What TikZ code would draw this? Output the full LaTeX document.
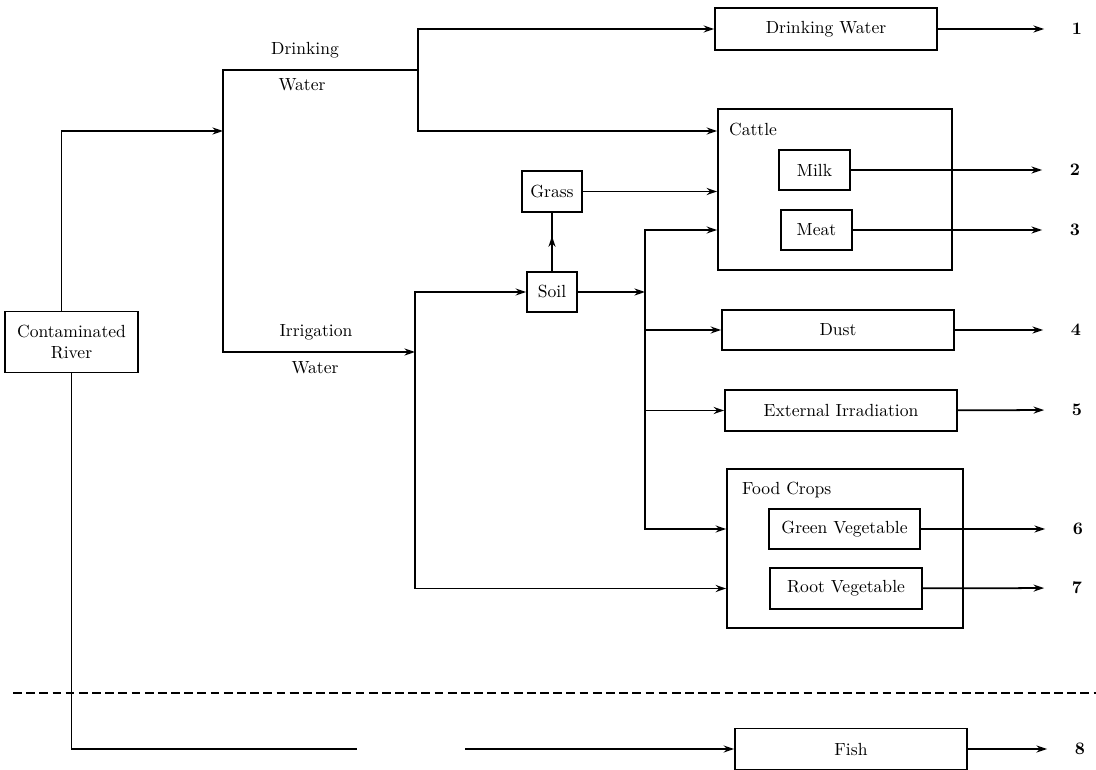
\documentclass[tikz,border=0pt]{standalone}
\usepackage{tikz}
\usetikzlibrary{arrows.meta,positioning,decorations.markings}

\begin{document}
\begin{tikzpicture}[
	x=0.02cm, y=-0.02cm,
	font=\normalsize
	]
\tikzset{
	base/.style = { rectangle, draw=black, line width=1pt, text centered, inner sep=2pt, minimum height=0.8cm },
	wide/.style = { base, minimum width=4.64cm },
	group/.style = { base, minimum width=4.7cm, minimum height=3.2cm },
	small/.style = { base, minimum width=1.42cm },
	veg/.style = { base, minimum width=3.04cm },
	pipe/.style = { line width=1pt },
	flow/.style = { pipe, -{Stealth[length=6pt,width=4pt]} },
	midflow/.style = { pipe, postaction={decorate}, decoration={markings, mark=at position 0.6 with {\arrow{Stealth[length=6pt,width=4pt]}}} },
	outnum/.style = { font=\bfseries, inner xsep=0.55cm },
	lbl/.style = { inner sep=1pt },
	divider/.style = { line width=1.2pt, dash pattern=on 5pt off 2.5pt }
}
\useasboundingbox (0,0) rectangle (1096,770);

	% source
	\node (river) [base, align=center, minimum width=2.66cm, minimum height=1.22cm] at (71.5,342) {Contaminated\\River};

	% upper column
	\node (drink) [base, minimum width=4.44cm, minimum height=0.84cm] at (826,29) {Drinking Water};
	\node (cattle) [group, minimum width=4.68cm, minimum height=3.22cm] at (835,189.5) {};
	\node (cattleLbl) [lbl, anchor=west] at (727,130) {Cattle};
	\node (milk) [small] at (814.5,170) {Milk};
	\node (meat) [small] at (816.5,230) {Meat};
	\node (grass) [base, minimum width=1.2cm, minimum height=0.82cm] at (552,191.5) {Grass};
	\node (soil) [base, minimum width=1cm] at (552,292) {Soil};

	% lower column
	\node (dust) [wide] at (838,330) {Dust};
	\node (irr) [wide, minimum height=0.82cm] at (841,410.5) {External Irradiation};
	\node (crops) [group, minimum width=4.72cm, minimum height=3.18cm] at (845,548.5) {};
	\node (cropsLbl) [lbl, anchor=west] at (740,490) {Food Crops};
	\node (green) [veg, minimum width=3.02cm] at (844.5,529) {Green Vegetable};
	\node (root) [veg, minimum height=0.82cm] at (846,588.5) {Root Vegetable};
	\node (fish) [wide, minimum height=0.82cm] at (851,749) {Fish};

	% pathway labels
	\node (lblDrinkA) [lbl] at (305,50) {Drinking};
	\node (lblDrinkB) [lbl] at (302,85) {Water};
	\node (lblIrrA) [lbl] at (316,332) {Irrigation};
	\node (lblIrrB) [lbl] at (315,368) {Water};

	% end points
	\node (n1) [outnum] at (1077,29) {1};
	\node (n2) [outnum] at (1075,170) {2};
	\node (n3) [outnum] at (1075,230) {3};
	\node (n4) [outnum] at (1076,330) {4};
	\node (n5) [outnum] at (1077,410) {5};
	\node (n6) [outnum] at (1078,529) {6};
	\node (n7) [outnum] at (1077,588) {7};
	\node (n8) [outnum] at (1080,749) {8};

	% junctions
	\coordinate (jRiver) at (223,131);
	\coordinate (jDrink) at (418,70);
	\coordinate (jIrr) at (415,352);
	\coordinate (jSoil) at (645,292);
	\coordinate (cutA) at (357,749);
	\coordinate (cutB) at (465,749);
	\coordinate (divL) at (13,693);
	\coordinate (divR) at (1096,693);

	% paths
	\draw [flow] ([xshift=-0.2cm]river.north) |- (jRiver);
	\draw [pipe] (jDrink) -| (jRiver);
	\draw [flow] (jRiver) |- (jIrr);

	\draw [flow] (jDrink) |- (drink.west);
	\draw [flow] (jDrink) |- (cattle.west |- jRiver);

	\draw [flow] (jIrr) |- (soil.west);
	\draw [flow] (jIrr) |- (crops.west |- root);

	\draw [midflow] (soil) -- (grass);
	\draw [flow] (grass) -- (cattle.west |- grass);
	\draw [flow] (soil) -- (jSoil);
	\draw [flow] (jSoil) |- (cattle.west |- meat);
	\draw [flow] (jSoil) |- (dust.west);
	\draw [flow] (jSoil) |- (irr.west);
	\draw [flow] (jSoil) |- (crops.west |- green);

	\draw [flow] (drink) -- (n1);
	\draw [flow] (milk) -- (n2);
	\draw [flow] (meat) -- (n3);
	\draw [flow] (dust) -- (n4);
	\draw [flow] (irr) -- (n5);
	\draw [flow] (green) -- (n6);
	\draw [flow] (root) -- (n7);

	\draw [divider] (divL) -- (divR);
	\draw [pipe] (river.south) |- (cutA);
	\draw [flow] (cutB) -- (fish.west);
	\draw [flow] (fish) -- (n8);
\end{tikzpicture}
\end{document}
